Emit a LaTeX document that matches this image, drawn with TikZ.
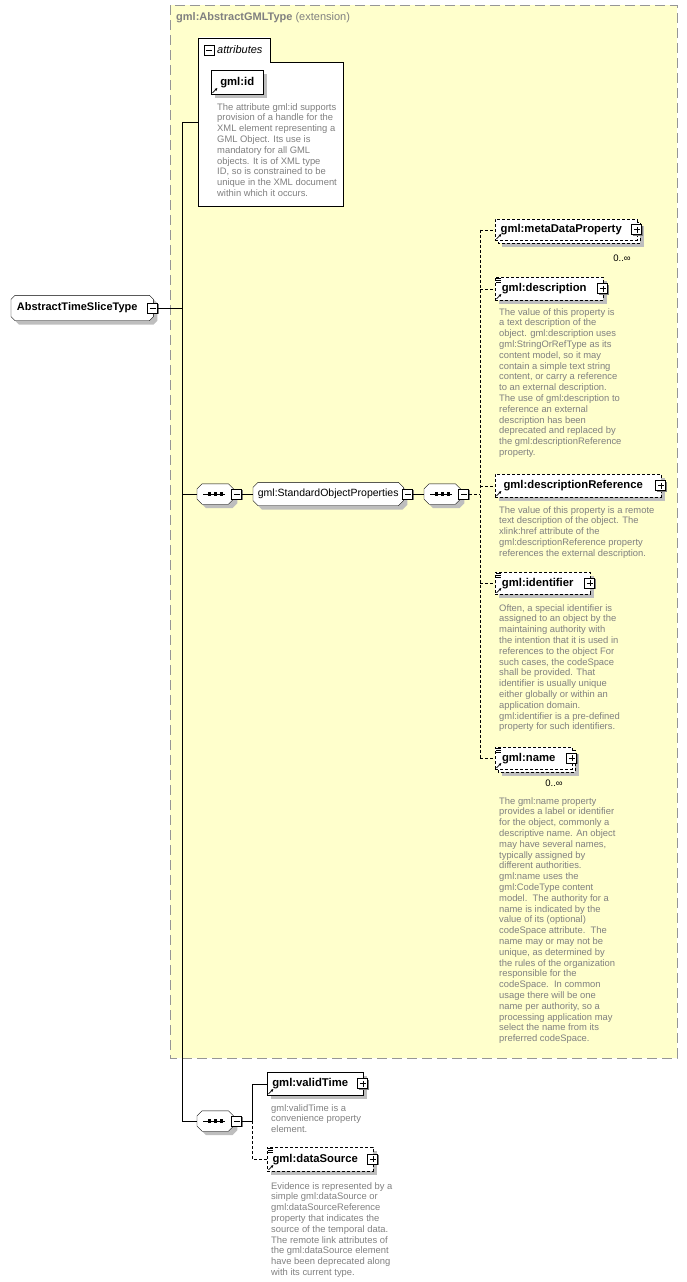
\documentclass[tikz,border=0pt]{standalone}
\usepackage{fontspec}
\setmainfont{Liberation Sans}
\usetikzlibrary{positioning,arrows.meta}
\pgfdeclarelayer{background}
\pgfsetlayers{background,main}
\definecolor{extfill}{RGB}{255,255,204}
\definecolor{extline}{RGB}{150,150,150}
\definecolor{doctext}{RGB}{128,128,128}
\definecolor{shadowgray}{RGB}{190,190,190}

\begin{document}
\begin{tikzpicture}[x=1pt, y=-1pt, line width=0.8pt,
  shadowed/.style={preaction={fill=shadowgray, transform canvas={shift={(4pt,-4pt)}}}},
  box/.style={draw, fill=white, inner sep=0pt, minimum height=23pt, font=\bfseries\fontsize{11.3}{13}\selectfont},
  element/.style={box, shadowed},
  optbox/.style={dash pattern=on 3pt off 2pt},
  optline/.style={dash pattern=on 3pt off 2pt},
  haskids/.style={execute at end node={\hspace{10pt}}},
  ctype/.style={inner sep=0pt, minimum width=142pt, minimum height=25pt, font=\bfseries\fontsize{11}{13}\selectfont},
  group/.style={inner sep=0pt, minimum width=150pt, minimum height=23pt, font=\fontsize{10.5}{13}\selectfont},
  seqnode/.style={inner sep=0pt, minimum width=36pt, minimum height=20pt},
  togglebox/.style={draw, fill=white, minimum size=10pt, inner sep=0pt, line width=0.9pt,
    preaction={fill=gray, transform canvas={shift={(1pt,-1pt)}}}},
  minusbox/.style={togglebox, path picture={\draw[line width=0.7pt] ([xshift=2pt]path picture bounding box.west) -- ([xshift=-2pt]path picture bounding box.east);}},
  plusbox/.style={togglebox, path picture={\draw[line width=0.7pt] ([xshift=2pt]path picture bounding box.west) -- ([xshift=-2pt]path picture bounding box.east)
      ([yshift=-2pt]path picture bounding box.north) -- ([yshift=2pt]path picture bounding box.south);}},
  doc/.style={anchor=north west, inner sep=0pt, align=left, text=doctext, font=\fontsize{9.4}{10.8}\selectfont},
  occ/.style={inner sep=0pt, font=\fontsize{9.5}{11}\selectfont},
  linkmark/.style={-{Latex[length=2.8pt,width=2.8pt]}, line width=0.8pt},
]
  \useasboundingbox (0,0) rectangle (687,1282);

  \begin{pgfonlayer}{background}
    \draw[draw=extline, fill=extfill, dash pattern=on 10pt off 5pt] (170,5) rectangle (677,1058);
  \end{pgfonlayer}
  \node[anchor=west, inner sep=0pt, text=doctext, font=\fontsize{11}{13}\selectfont] (exttitle) at (176,18)
    {\textbf{gml:AbstractGMLType} (extension)};

  \node[ctype, haskids, anchor=west] (root) at (11,308) {AbstractTimeSliceType};
  \node[minusbox, right=-6pt of root] (rootm) {};

  \coordinate (trunk) at (182,122);
  \coordinate (attrin) at (198,122);
  \coordinate (rail) at (480,494);
  \coordinate (fork) at (252,1121);

  \node[draw, fill=white, anchor=north west, minimum width=145pt, minimum height=144pt, inner sep=0pt] (attr) at (198,62) {};
  \fill[white] (198.5,37) rectangle (269.5,63);
  \draw (attr.north west) |- (270,38) -- (270,62);
  \node[minusbox, anchor=north west] (attrm) at (204,45) {};
  \node[anchor=west, inner sep=0pt, font=\itshape\fontsize{11}{13}\selectfont] (attrtab) at (217,50) {attributes};

  \node[element, anchor=north west, minimum width=52pt, minimum height=24pt] (gmlid) at (211,70) {gml:id};
  \node[doc] (gmliddoc) at (217,103) {The attribute gml:id supports\\provision of a handle for the\\XML element representing a\\GML Object. Its use is\\mandatory for all GML\\objects. It is of XML type\\ID, so is constrained to be\\unique in the XML document\\within which it occurs.};

  \node[seqnode, anchor=west] (seq1) at (197,494) {};
  \node[minusbox, right=-2pt of seq1] (seq1m) {};
  \node[group, anchor=west] (sop) at (253,494) {gml:StandardObjectProperties};
  \node[minusbox, right=-1pt of sop] (sopm) {};
  \node[seqnode, anchor=west] (seq2) at (424,494) {};
  \node[minusbox, right=-2pt of seq2] (seq2m) {};

  \fill[shadowgray] (502,226) rectangle (644,247);
  \draw[optbox, fill=white] (498,222) rectangle (640,243);
  \node[box, optbox, haskids, anchor=north west, minimum width=142pt, minimum height=21pt] (meta) at (495,219) {gml:metaDataProperty};
  \node[plusbox, right=-6pt of meta] (metap) {};
  \node[occ] (metaocc) at (622,258) {0..∞};

  \node[element, optbox, haskids, anchor=north west, minimum width=108pt] (desc) at (495,277) {gml:description};
  \node[plusbox, right=-6pt of desc] (descp) {};
  \node[doc] (descdoc) at (499,308) {The value of this property is\\a text description of the\\object. gml:description uses\\gml:StringOrRefType as its\\content model, so it may\\contain a simple text string\\content, or carry a reference\\to an external description.\\The use of gml:description to\\reference an external\\description has been\\deprecated and replaced by\\the gml:descriptionReference\\property.};

  \node[element, optbox, haskids, anchor=north west, minimum width=166pt] (descref) at (495,474) {gml:descriptionReference};
  \node[plusbox, right=-6pt of descref] (descrefp) {};
  \node[doc] (descrefdoc) at (499,506) {The value of this property is a remote\\text description of the object. The\\xlink:href attribute of the\\gml:descriptionReference property\\references the external description.};

  \node[element, optbox, haskids, anchor=north west, minimum width=95pt, minimum height=22pt] (ident) at (495,572) {gml:identifier};
  \node[plusbox, right=-6pt of ident] (identp) {};
  \node[doc] (identdoc) at (499,604) {Often, a special identifier is\\assigned to an object by the\\maintaining authority with\\the intention that it is used in\\references to the object For\\such cases, the codeSpace\\shall be provided. That\\identifier is usually unique\\either globally or within an\\application domain.\\gml:identifier is a pre-defined\\property for such identifiers.};

  \fill[shadowgray] (502,754) rectangle (579,776);
  \draw[optbox, fill=white] (498,750) rectangle (575,772);
  \node[box, optbox, haskids, anchor=north west, minimum width=77pt, minimum height=22pt] (gmlname) at (495,747) {gml:name};
  \node[plusbox, right=-6pt of gmlname] (gmlnamep) {};
  \node[occ] (nameocc) at (554,783) {0..∞};
  \node[doc] (namedoc) at (499,797) {The gml:name property\\provides a label or identifier\\for the object, commonly a\\descriptive name. An object\\may have several names,\\typically assigned by\\different authorities.\\gml:name uses the\\gml:CodeType content\\model.\ \ The authority for a\\name is indicated by the\\value of its (optional)\\codeSpace attribute.\ \ The\\name may or may not be\\unique, as determined by\\the rules of the organization\\responsible for the\\codeSpace.\ \ In common\\usage there will be one\\name per authority, so a\\processing application may\\select the name from its\\preferred codeSpace.};

  \node[seqnode, anchor=west] (seq3) at (197,1121) {};
  \node[minusbox, right=-2pt of seq3] (seq3m) {};

  \node[element, haskids, anchor=north west, minimum width=96pt] (valid) at (267,1072) {gml:validTime};
  \node[plusbox, right=-6pt of valid] (validp) {};
  \node[doc] (validdoc) at (271,1104) {gml:validTime is a\\convenience property\\element.};

  \node[element, optbox, haskids, anchor=north west, minimum width=106pt, minimum height=24pt] (source) at (267,1147) {gml:dataSource};
  \node[plusbox, right=-6pt of source] (sourcep) {};
  \node[doc] (sourcedoc) at (271,1182) {Evidence is represented by a\\simple gml:dataSource or\\gml:dataSourceReference\\property that indicates the\\source of the temporal data.\\The remote link attributes of\\the gml:dataSource element\\have been deprecated along\\with its current type.};

  \begin{pgfonlayer}{background}
    \foreach \n/\c in {root/4,sop/5,seq1/5,seq2/5,seq3/5} {
      \fill[shadowgray, transform canvas={shift={(4pt,-4pt)}}] ([xshift=\c pt]\n.north west) -- ([xshift=-\c pt]\n.north east)
        -- ([yshift=-\c pt]\n.north east) -- ([yshift=\c pt]\n.south east) -- ([xshift=-\c pt]\n.south east)
        -- ([xshift=\c pt]\n.south west) -- ([yshift=\c pt]\n.south west) -- ([yshift=-\c pt]\n.north west) -- cycle;
      \draw[fill=white] ([xshift=\c pt]\n.north west) -- ([xshift=-\c pt]\n.north east)
        -- ([yshift=-\c pt]\n.north east) -- ([yshift=\c pt]\n.south east) -- ([xshift=-\c pt]\n.south east)
        -- ([xshift=\c pt]\n.south west) -- ([yshift=\c pt]\n.south west) -- ([yshift=-\c pt]\n.north west) -- cycle;
    }
  \end{pgfonlayer}
  \foreach \n in {seq1,seq2,seq3} {
    \draw ([xshift=-12pt]\n.center) -- ([xshift=10pt]\n.center);
    \foreach \dx in {-6,0,6}
      \fill ([xshift=\dx pt]\n.center) +(-1.6pt,-1.6pt) rectangle +(1.6pt,1.6pt);
  }

  \foreach \n in {gmlid,meta,desc,descref,ident,gmlname,valid,source}
    \draw[linkmark] ([shift={(1.5pt,1.5pt)}]\n.south west) -- ++(5pt,5pt);
  \foreach \n in {desc,ident,gmlname,source}
    \foreach \dy in {1.5,3.5,5.5}
      \draw[line width=0.6pt] ([shift={(1pt,-\dy pt)}]\n.north west) -- ++(5pt,0pt);

  \draw (rootm.east) -- (rootm.east -| trunk);
  \draw (attrin) -- (trunk) |- (seq3.west);
  \draw (seq1.west -| trunk) -- (seq1.west);
  \draw (seq1m.east) -- (sop.west);
  \draw (sopm.east) -- (seq2.west);
  \draw[optline] (seq2m.east) -- (rail);
  \draw[optline] (meta.west -| rail) -- (gmlname.west -| rail);
  \foreach \n in {meta,desc,descref,ident,gmlname}
    \draw[optline] (\n.west -| rail) -- (\n.west);
  \draw (seq3m.east) -- (fork);
  \draw (fork) |- (valid.west);
  \draw[optline] (fork) |- (source.west);
\end{tikzpicture}
\end{document}
